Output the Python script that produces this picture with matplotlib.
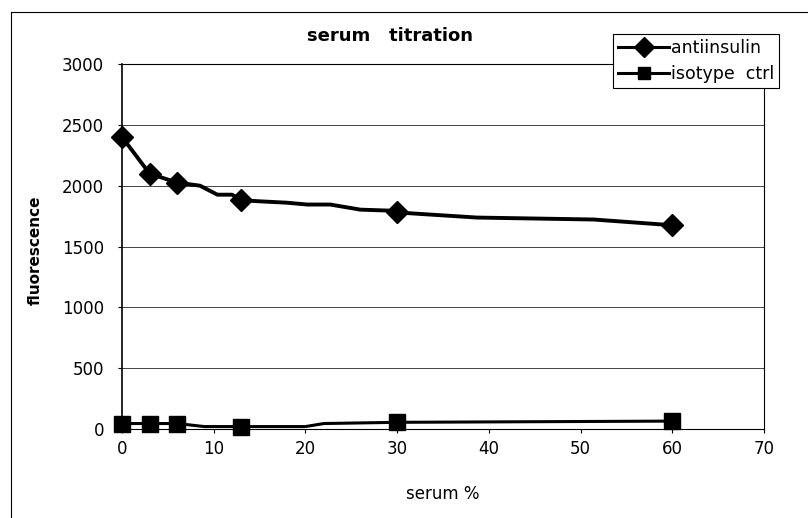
import matplotlib
matplotlib.use("Agg")
import matplotlib.pyplot as plt
from matplotlib.lines import Line2D

# serum % and fluorescence
serum = [0, 3, 6, 13, 30, 60]
antiinsulin = [2400, 2100, 2025, 1880, 1780, 1675]
isotype = [45, 45, 45, 20, 55, 65]

# the drawn lines have a few extra bends between the markers
anti_line_x = [0, 3, 6, 8.5, 10.4, 12, 13, 15.4, 18, 20.2, 22.7, 26, 29.2, 30, 38.7, 51.4, 60]
anti_line_y = [2400, 2100, 2025, 2000, 1926, 1926, 1880, 1870, 1860, 1845, 1845, 1803, 1795, 1780, 1738, 1722, 1675]
iso_line_x = [0, 3, 6, 9, 13, 20, 22, 30, 60]
iso_line_y = [45, 45, 45, 20, 20, 20, 45, 55, 65]

xticks = [0, 10, 20, 30, 40, 50, 60, 70]
yticks = [0, 500, 1000, 1500, 2000, 2500, 3000]

plt.rcParams['font.family'] = ['DejaVu Sans']

fig = plt.figure(figsize=(8.08, 5.18), dpi=100)
ax = fig.add_axes([0.151, 0.1718, 0.7946, 0.7046])

ax.plot(anti_line_x, anti_line_y, color='black', linewidth=2.8, clip_on=False)
ax.plot(serum, antiinsulin, linestyle='none', marker='D', markersize=11,
        color='black', clip_on=False, zorder=5)
ax.plot(iso_line_x, iso_line_y, color='black', linewidth=2.2, clip_on=False)
ax.plot(serum, isotype, linestyle='none', marker='s', markersize=11,
        color='black', clip_on=False, zorder=5)

ax.set_xlim(0, 70)
ax.set_ylim(0, 3000)
ax.set_xticks(xticks)
ax.set_yticks(yticks)
ax.tick_params(direction='out', length=3, width=0.8, labelsize=12)
ax.tick_params(axis='y', pad=10)
ax.tick_params(axis='x', pad=5)
ax.yaxis.grid(True, color='#444444', linewidth=0.7)
ax.set_axisbelow(True)
for s in ax.spines.values():
    s.set_linewidth(0.8)
ax.spines['left'].set_linewidth(1.2)

handles = [Line2D([], [], color='black', linewidth=2.2, marker='D', markersize=10),
           Line2D([], [], color='black', linewidth=2.2, marker='s', markersize=8)]
leg = fig.legend(handles, ['antiinsulin', 'isotype  ctrl'], loc='upper left',
                 bbox_to_anchor=(0.759, 0.934), borderaxespad=0, fontsize=12.5,
                 handlelength=2.9, handletextpad=0.1, borderpad=0.3,
                 labelspacing=0.45, fancybox=False, framealpha=1)
leg.get_frame().set_edgecolor('black')
leg.get_frame().set_linewidth(0.8)

fig.text(390 / 808, 1 - 36 / 518, 'serum   titration', ha='center', va='center',
         fontsize=13, fontweight='bold')
fig.text(35 / 808, 1 - 250 / 518, 'fluorescence', ha='center', va='center',
         rotation=90, fontsize=11, fontweight='bold')
fig.text(443 / 808, 1 - 494 / 518, 'serum %', ha='center', va='center', fontsize=12)

# outer chart frame (only the left and top edges show in the scan)
fig.add_artist(Line2D([11 / 808, 11 / 808], [0, 1 - 12 / 518], color='black', linewidth=0.8))
fig.add_artist(Line2D([11 / 808, 1], [1 - 12 / 518, 1 - 12 / 518], color='black', linewidth=0.8))

fig.savefig('out.png', dpi=100)
